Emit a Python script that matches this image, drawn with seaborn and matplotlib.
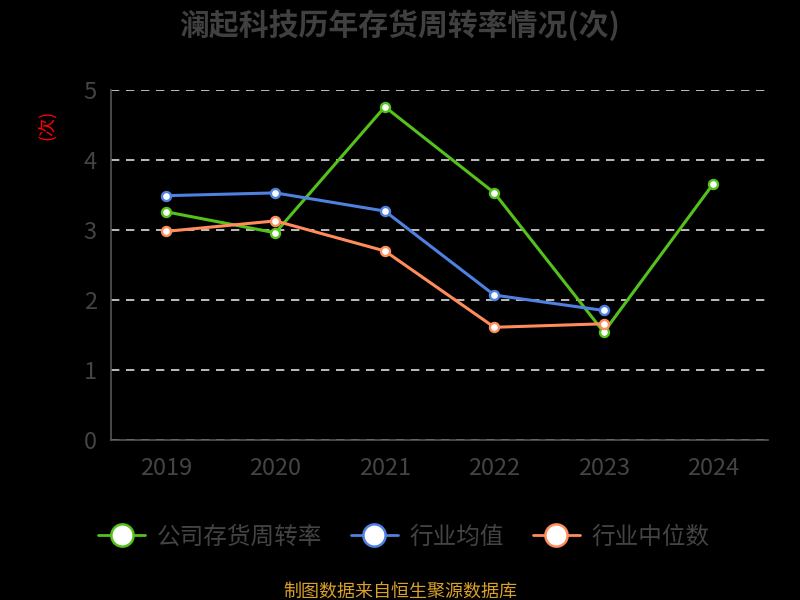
import pandas as pd
import numpy as np
import matplotlib.pyplot as plt
from matplotlib.lines import Line2D
import seaborn as sns

years = ['2019', '2020', '2021', '2022', '2023', '2024']
company = [3.26, 2.96, 4.76, 3.53, 1.54, 3.66]
industry_mean = [3.49, 3.53, 3.27, 2.07, 1.85, np.nan]
industry_median = [2.98, 3.13, 2.70, 1.61, 1.66, np.nan]
series_names = ['公司存货周转率', '行业均值', '行业中位数']
colors = ['#55c21b', '#4f81e0', '#ff8c5a']

df = pd.DataFrame({'year': years, series_names[0]: company,
                   series_names[1]: industry_mean, series_names[2]: industry_median})
df = pd.melt(df, ['year'], var_name='series', value_name='value')

sns.set_style('dark', {'axes.facecolor': 'black', 'figure.facecolor': 'black'})
plt.rcParams['font.family'] = ['Noto Sans CJK SC', 'DejaVu Sans']

fig = plt.figure(figsize=(8, 6), dpi=100, facecolor='black')
ax = fig.add_axes([0.139, 0.2667, 0.821, 0.5833])
ax.set_facecolor('black')

for name, c in zip(series_names, colors):
    sub = df[df['series'] == name].dropna()
    sns.lineplot(data=sub, x='year', y='value', ax=ax, color=c, linewidth=2.2,
                 marker='o', markersize=6.5, markerfacecolor='white',
                 markeredgecolor=c, markeredgewidth=1.7, sort=False)

ax.set_xlim(-0.5, len(years) - 0.5)
ax.set_ylim(0, 5)
ax.set_yticks(range(0, 6))
ax.yaxis.grid(True, color='#dddddd', linestyle=(0, (5, 4)), linewidth=1.2)
ax.xaxis.grid(False)
ax.set_axisbelow(True)

ax.set_xticks(range(len(years)))
ax.set_xticklabels(years)
ax.set_xticks(np.arange(-0.5, len(years)), minor=True)
ax.tick_params(axis='x', which='major', length=0, labelsize=17, labelcolor='#444444', pad=12)
ax.tick_params(axis='x', which='minor', length=6, color='#555555', width=1.2)
ax.tick_params(axis='y', length=7.5, labelsize=17, color='#555555',
               labelcolor='#444444', width=1.2, pad=3)

for s in ['top', 'right']:
    ax.spines[s].set_visible(False)
for s in ['left', 'bottom']:
    ax.spines[s].set_color('#555555')
    ax.spines[s].set_linewidth(1.2)

ax.set_xlabel('')
ax.set_ylabel('(次)', color='#ff0000', fontsize=13)
ax.yaxis.set_label_coords(-0.085, 0.9)

fig.suptitle('澜起科技历年存货周转率情况(次)', color='#404040', fontsize=21.5,
             fontweight='bold', y=0.985)

handles = [Line2D([], [], color=c, linewidth=2, marker='o', markersize=16,
                  markerfacecolor='white', markeredgecolor=c, markeredgewidth=1.8)
           for c in colors]
fig.legend(handles, series_names, loc='center', bbox_to_anchor=(0.505, 0.105), ncol=3,
           frameon=False, fontsize=17, labelcolor='#444444', handlelength=2.0,
           columnspacing=1.2, handletextpad=0.5)

fig.text(0.5, 0.005, '制图数据来自恒生聚源数据库', color='#d9a02a', fontsize=13, ha='center')

plt.savefig('out.png', dpi=100, facecolor='black')
